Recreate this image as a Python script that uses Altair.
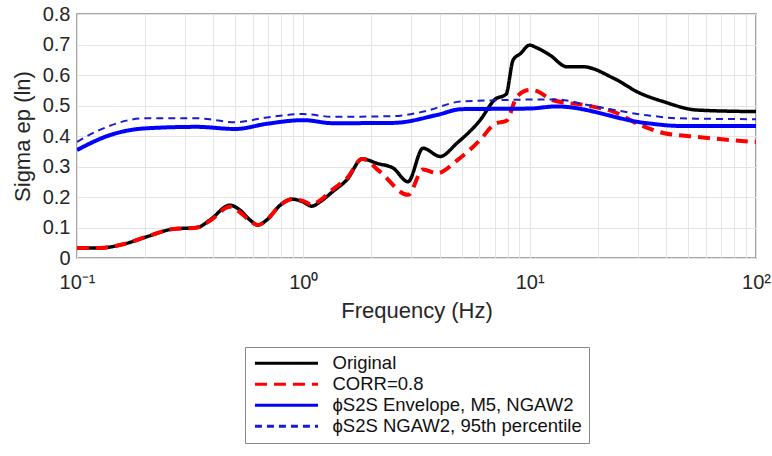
import altair as alt
import pandas as pd

# ---- data ----
orig_f = [0.1, 0.126, 0.16, 0.2, 0.266, 0.34, 0.387, 0.474, 0.525, 0.58, 0.63, 0.69, 0.79, 0.89,
          0.99, 1.09, 1.19, 1.35, 1.56, 1.82, 2.12, 2.49, 2.9, 3.38, 4.02, 4.78, 6.04, 7.03, 7.87,
          8.45, 9.1, 10.0, 10.7, 12.3, 14.6, 17.2, 23.4, 30.8, 38.9, 55.0, 100.0]
orig_v = [0.033, 0.033, 0.045, 0.068, 0.095, 0.10, 0.125, 0.173, 0.157, 0.125, 0.108, 0.125,
          0.173, 0.193, 0.185, 0.17, 0.185, 0.218, 0.257, 0.325, 0.31, 0.295, 0.25, 0.36, 0.333,
          0.377, 0.452, 0.52, 0.537, 0.649, 0.67, 0.698, 0.69, 0.665, 0.627, 0.627, 0.59, 0.54,
          0.513, 0.485, 0.48]

corr_f = [0.1, 0.126, 0.16, 0.2, 0.266, 0.34, 0.387, 0.474, 0.525, 0.58, 0.63, 0.69, 0.79, 0.89,
          0.99, 1.09, 1.19, 1.35, 1.56, 1.82, 2.18, 2.9, 3.38, 3.9, 4.78, 6.04, 7.03, 7.9, 8.8,
          10.0, 10.7, 12.6, 17.9, 23.4, 30.8, 38.9, 55.0, 100.0]
corr_v = [0.033, 0.033, 0.045, 0.068, 0.095, 0.10, 0.122, 0.168, 0.15, 0.122, 0.108, 0.125,
          0.173, 0.193, 0.188, 0.175, 0.19, 0.225, 0.262, 0.325, 0.283, 0.207, 0.29, 0.278, 0.32,
          0.387, 0.44, 0.45, 0.53, 0.551, 0.548, 0.518, 0.50, 0.48, 0.436, 0.41, 0.397, 0.38]

env_f = [0.1, 0.14, 0.2, 0.34, 0.5, 0.69, 1.0, 1.35, 2.5, 3.9, 5.0, 10.0, 13.1, 33.0, 46.0, 100.0]
env_v = [0.354, 0.403, 0.425, 0.43, 0.423, 0.44, 0.452, 0.442, 0.443, 0.469, 0.488, 0.49, 0.497,
         0.442, 0.433, 0.433]

p95_f = [0.1, 0.126, 0.2, 0.34, 0.5, 0.69, 1.0, 1.35, 2.5, 3.4, 5.0, 13.0, 18.5, 33.0, 46.0, 100.0]
p95_v = [0.381, 0.42, 0.458, 0.458, 0.445, 0.461, 0.472, 0.463, 0.465, 0.48, 0.513, 0.52, 0.50,
         0.468, 0.458, 0.455]

series_names = ["Original", "CORR=0.8", "\u03d5S2S Envelope, M5, NGAW2", "\u03d5S2S NGAW2, 95th percentile"]
series_colors = ["#000000", "#ff0000", "#0000ff", "#1a1ad0"]
series_dash = [[1, 0], [12, 7], [1, 0], [7, 5]]
series_width = [3.5, 4, 4, 2]

x_minor = [m * d for d in [0.1, 1, 10] for m in range(1, 10)] + [100]
y_ticks = [0, 0.1, 0.2, 0.3, 0.4, 0.5, 0.6, 0.7, 0.8]

rows = []
for name, w, fs, vs in zip(series_names, series_width, [orig_f, corr_f, env_f, p95_f],
                           [orig_v, corr_v, env_v, p95_v]):
    for i, (f, v) in enumerate(zip(fs, vs)):
        rows.append({"series": name, "f": f, "v": v, "order": i, "w": w})
df = pd.DataFrame(rows)

font = "Liberation Sans"

chart = alt.Chart(df).mark_line(clip=True, interpolate="monotone").encode(
    x=alt.X("f:Q", scale=alt.Scale(type="log", domain=[0.1, 100], nice=False),
            axis=alt.Axis(values=x_minor, title="Frequency (Hz)",
                          labelExpr="datum.value == 0.1 ? '10\u207b\u00b9' : datum.value == 1 ? '10\u2070' : datum.value == 10 ? '10\u00b9' : datum.value == 100 ? '10\u00b2' : ''",
                          labelFontSize=20, titleFontSize=22, labelPadding=14, titlePadding=8,
                          ticks=False, domain=False, labelFlush=False, labelOverlap=False)),
    y=alt.Y("v:Q", scale=alt.Scale(domain=[0, 0.8], nice=False),
            axis=alt.Axis(values=y_ticks, format=".1~f", title="Sigma ep (ln)",
                          labelFontSize=20, titleFontSize=22, labelPadding=7, titlePadding=8,
                          ticks=False, domain=False)),
    color=alt.Color("series:N", scale=alt.Scale(domain=series_names, range=series_colors),
                    legend=alt.Legend(title=None)),
    strokeDash=alt.StrokeDash("series:N", scale=alt.Scale(domain=series_names, range=series_dash),
                              legend=alt.Legend(title=None)),
    strokeWidth=alt.StrokeWidth("w:Q", scale=None, legend=None),
    order="order:Q",
    detail="series:N",
).properties(
    width=679, height=244,
    autosize=alt.AutoSizeParams(type="none"),
    padding={"left": 77, "top": 14, "right": 16, "bottom": 198},
).configure_view(
    stroke="#888888", strokeWidth=1.5
).configure_axis(
    gridColor="#e4e4e4", gridWidth=1, labelFont=font, titleFont=font,
    labelColor="#262626", titleColor="#262626", titleFontWeight="normal"
).configure_legend(
    orient="none", legendX=168, legendY=333,
    symbolType="M-1,0H9", symbolSize=159, symbolStrokeWidth=3, symbolOffset=0,
    labelFont=font, labelFontSize=18.5, labelColor="#111111", labelOffset=62,
    labelLimit=400, rowPadding=2, padding=7,
    strokeColor="#888888", fillColor="#ffffff",
)

chart.save("out.html", embed_options={"renderer": "svg", "actions": False})
